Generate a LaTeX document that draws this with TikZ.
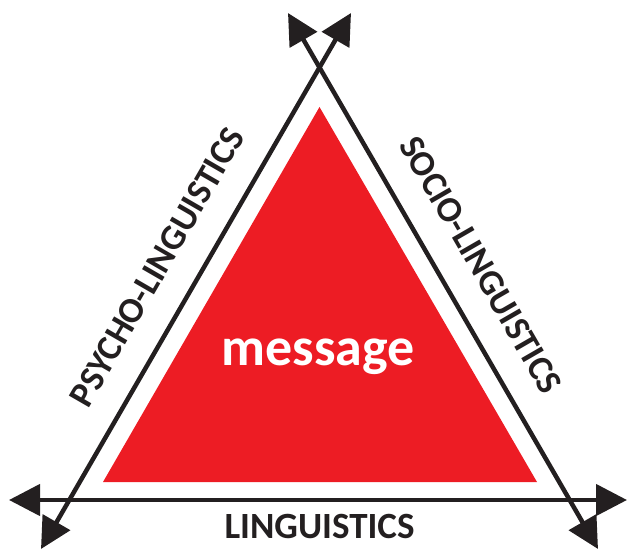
\documentclass[tikz,border=0pt]{standalone}
\usepackage{fontspec}
\setmainfont{Carlito}
\usetikzlibrary{arrows.meta}
\definecolor{msgred}{HTML}{ED1C24}
\definecolor{ink}{HTML}{231F20}

\begin{document}
\begin{tikzpicture}[
x=1pt, y=-1pt,
every node/.append style = {inner sep=0pt},
  axis/.style = {line width=4.5pt, ink,
                 {Triangle[length=31pt,width=31pt]}-{Triangle[length=31pt,width=31pt]}},
 field/.style = {ink, font=\fontsize{36}{36}\selectfont\bfseries}
                    ]
\useasboundingbox (0,0) rectangle (627,551);
% red triangle
\fill[msgred] (319.5,107) -- (537,482) -- (103,482) -- cycle;
%nodes
\coordinate (nw) at (288,13);
\coordinate (ne) at (351,13);
\coordinate (sw) at (41,549);
\coordinate (se) at (598,549);
\coordinate (w)  at (9,500);
\coordinate (e)  at (627,500);
%
\node (msg)    [white, anchor=base, font=\fontsize{54}{54}\selectfont\bfseries]
               at (318,365)          {message};
\node (ling)   [field, anchor=base, font=\fontsize{37}{37}\selectfont\bfseries]
               at (319.5,538)        {LINGUISTICS};
\node (psycho) [field, rotate=60]    at (157,267)   {PSYCHO-LINGUISTICS};
\node (socio)  [field, rotate=-60]   at (481,265)   {SOCIO-LINGUISTICS};
% edges
\draw[axis] (sw) -- (ne);
\draw[axis] (nw) -- (se);
\draw[axis] (w)  -- (e);
\end{tikzpicture}
\end{document}
